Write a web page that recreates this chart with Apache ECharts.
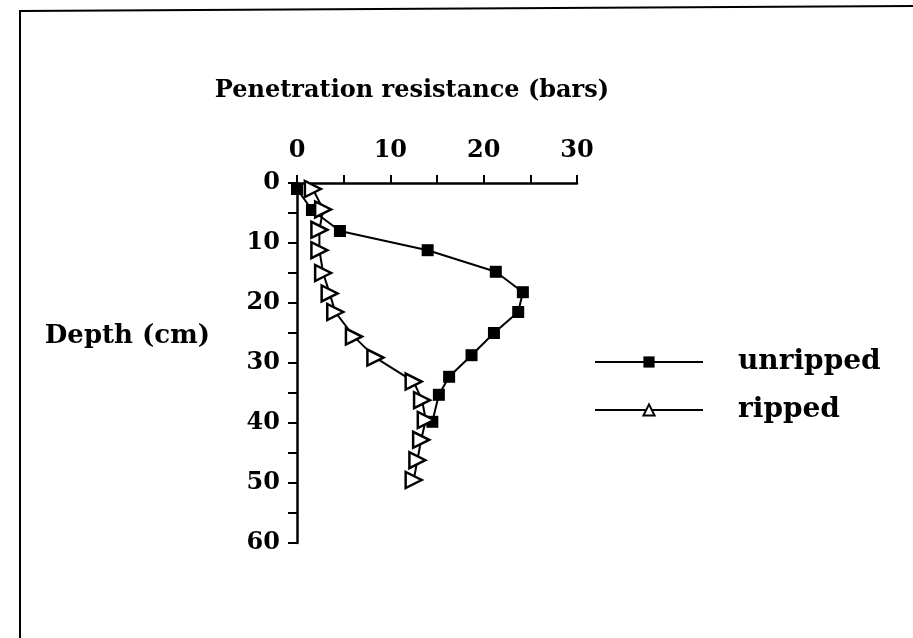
<!DOCTYPE html>
<html>
<head>
<meta charset="utf-8">
<script src="https://cdn.jsdelivr.net/npm/echarts@6/dist/echarts.min.js"></script>
<style>
  html, body { margin: 0; padding: 0; background: #fff; }
  #chart { width: 913px; height: 638px; }
</style>
</head>
<body>
<div id="chart"></div>
<script>
// depth in cm, resistance in bars
var unrippedDepth = [1, 4.5, 8, 11.2, 14.8, 18.2, 21.5, 25, 28.7, 32.3, 35.3, 39.8]
var unrippedRes = [0, 1.6, 4.6, 14.0, 21.3, 24.2, 23.7, 21.1, 18.7, 16.3, 15.2, 14.5]
var rippedDepth = [1, 4.4, 7.8, 11.2, 15, 18.4, 21.5, 25.6, 29.1, 33.1, 36.2, 39.5, 42.8, 46.2, 49.5]
var rippedRes = [1.7, 2.8, 2.4, 2.4, 2.8, 3.5, 4.1, 6.1, 8.4, 12.5, 13.4, 13.8, 13.3, 12.9, 12.5]
var xTicks = [0, 10, 20, 30]
var yTicks = [0, 10, 20, 30, 40, 50, 60]

var font = 'DejaVu Serif'

function pairs(xs, ys) {
  return xs.map(function (x, i) { return [x, ys[i]] })
}

var chart = echarts.init(document.getElementById('chart'))
var option = {
  backgroundColor: '#fff',
  animation: false,
  grid: {
    left: 297,
    top: 183,
    width: 280,
    height: 360
  },
  graphic: [
    {
      type: 'polyline',
      shape: { points: [[20, 638], [20, 11], [913, 6]] },
      style: { stroke: '#000', lineWidth: 2, fill: null }
    }
  ],
  legend: {
    orient: 'vertical',
    left: 589,
    top: 343,
    itemWidth: 108,
    itemHeight: 14,
    itemGap: 20,
    symbolRotate: 0,
    textStyle: {
      fontFamily: font,
      fontWeight: 'bold',
      fontSize: 28,
      color: '#000',
      padding: [0, 0, 0, 30]
    },
    data: ['unripped', 'ripped']
  },
  xAxis: {
    type: 'value',
    position: 'top',
    min: 0,
    max: 30,
    interval: 5,
    name: 'Penetration resistance (bars)',
    nameLocation: 'middle',
    nameGap: 80,
    nameTextStyle: {
      fontFamily: font,
      fontWeight: 'bold',
      fontSize: 24,
      color: '#000',
      padding: [0, 50, 0, 0]
    },
    splitLine: { show: false },
    axisLine: { lineStyle: { color: '#000', width: 2.5 } },
    axisTick: { length: 8, lineStyle: { color: '#000', width: 2 } },
    axisLabel: {
      margin: 20,
      fontFamily: font,
      fontWeight: 'bold',
      fontSize: 24,
      color: '#000',
      formatter: function (v) {
        return xTicks.indexOf(v) >= 0 ? String(v) : ''
      }
    }
  },
  yAxis: {
    type: 'value',
    inverse: true,
    min: 0,
    max: 60,
    interval: 5,
    name: 'Depth (cm)\n ',
    nameLocation: 'middle',
    nameRotate: 0,
    nameGap: 87,
    nameTextStyle: {
      fontFamily: font,
      fontWeight: 'bold',
      fontSize: 26,
      lineHeight: 54,
      color: '#000'
    },
    splitLine: { show: false },
    axisLine: { lineStyle: { color: '#000', width: 2.5 } },
    axisTick: { length: 9, lineStyle: { color: '#000', width: 2 } },
    axisLabel: {
      margin: 17,
      fontFamily: font,
      fontWeight: 'bold',
      fontSize: 24,
      color: '#000',
      formatter: function (v) {
        return yTicks.indexOf(v) >= 0 ? String(v) : ''
      }
    }
  },
  series: [
    {
      name: 'unripped',
      type: 'line',
      data: pairs(unrippedRes, unrippedDepth),
      symbol: 'rect',
      symbolSize: 12,
      itemStyle: { color: '#000' },
      lineStyle: { color: '#000', width: 2 },
      z: 2
    },
    {
      name: 'ripped',
      type: 'line',
      data: pairs(rippedRes, rippedDepth),
      symbol: 'triangle',
      symbolRotate: -90,
      symbolSize: 16,
      itemStyle: { color: '#fff', borderColor: '#000', borderWidth: 2.5 },
      lineStyle: { color: '#000', width: 2 },
      z: 3
    }
  ]
}
option && chart.setOption(option)
</script>
</body>
</html>
